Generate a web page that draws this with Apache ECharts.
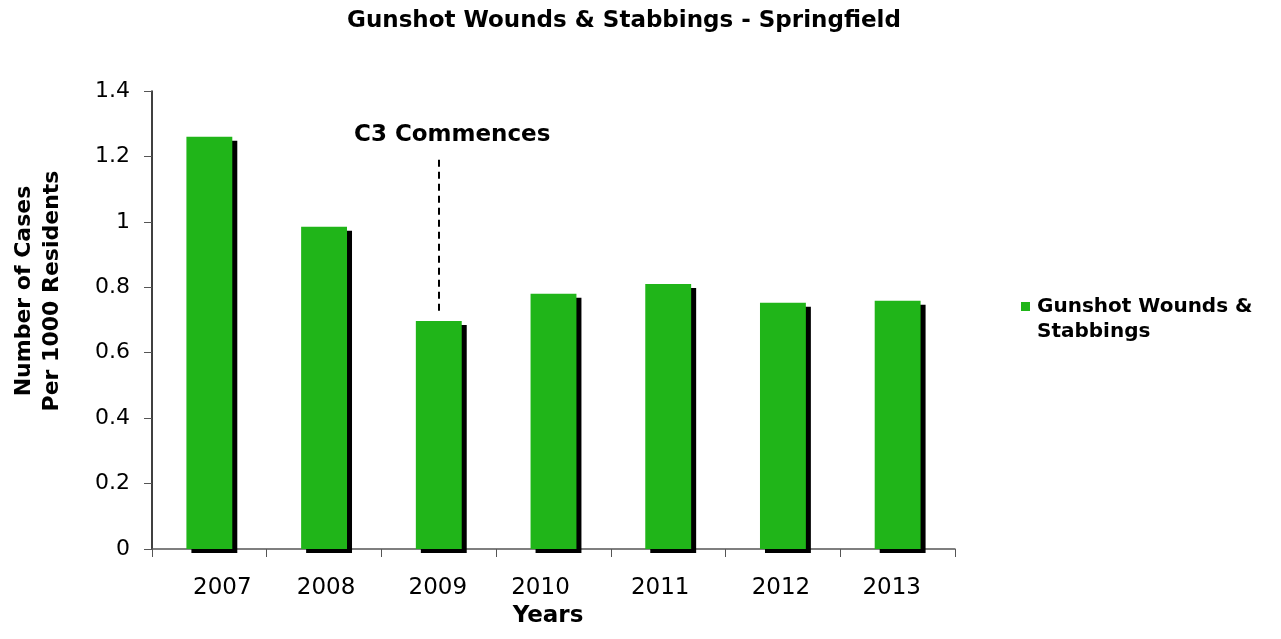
<!DOCTYPE html>
<html><head><meta charset="utf-8">
<script src="https://cdn.jsdelivr.net/npm/echarts@6/dist/echarts.min.js"></script>
<style>html,body{margin:0;padding:0;background:#fff}#c{width:1281px;height:639px}</style>
</head><body><div id="c"></div>
<script>
const years = ['2007','2008','2009','2010','2011','2012','2013'];
const casesPer1000 = [1.26, 0.985, 0.697, 0.78, 0.81, 0.753, 0.759];
const yTicks = [0, 0.2, 0.4, 0.6, 0.8, 1, 1.2, 1.4];
const seriesName = 'Gunshot Wounds & Stabbings';
const annotationYear = '2009';
const annotationRange = [1.19, 0.717];
const annotationText = 'C3 Commences';

// layout/style constants (horizontal nudges of x-axis labels as in the reference)
const LABEL_NUDGE = [13, 2, -1, -13, -8, -2, -6];
const FONT = '"DejaVu Sans", Verdana, sans-serif';

const rich = {};
LABEL_NUDGE.forEach((d, i) => {
  rich['s' + i] = {fontFamily: FONT, fontSize: 23, color: '#000',
    padding: d >= 0 ? [0, 0, 0, 2 * d] : [0, -2 * d, 0, 0]};
});

const chart = echarts.init(document.getElementById('c'), null, {renderer: 'canvas'});
chart.setOption({
  animation: false,
  backgroundColor: '#fff',
  title: {
    text: 'Gunshot Wounds & Stabbings - Springfield',
    left: 342, top: 5,
    textStyle: {fontFamily: FONT, fontSize: 23, fontWeight: 'bold', color: '#000'}
  },
  grid: {left: 152, right: 326, top: 91, bottom: 90, containLabel: false},
  legend: {
    left: 1021, top: 294, padding: 0,
    icon: 'path://M0,0H9V9H0Z M0,34',
    itemWidth: 9, itemHeight: 34, itemGap: 0,
    formatter: () => 'Gunshot Wounds &\nStabbings',
    textStyle: {fontFamily: FONT, fontSize: 20, fontWeight: 'bold', color: '#000', lineHeight: 25, padding: [0,0,0,2]},
    data: [seriesName]
  },
  xAxis: {
    type: 'category', data: years,
    name: 'Years', nameLocation: 'middle', nameGap: 55,
    nameTextStyle: {fontFamily: FONT, fontSize: 23, fontWeight: 'bold', color: '#000', padding: [0, 11, 0, 0]},
    axisLine: {lineStyle: {color: '#555', width: 1.5}},
    axisTick: {show: true, length: 8, alignWithLabel: false, interval: 0, lineStyle: {color: '#555'}},
    axisLabel: {fontFamily: FONT, fontSize: 23, color: '#000', margin: 28, interval: 0, hideOverlap: false,
      formatter: (v, i) => '{s' + i + '|' + v + '}', rich: rich}
  },
  yAxis: {
    type: 'value', min: 0, max: 1.4, interval: 0.2,
    axisLine: {show: true, lineStyle: {color: '#000', width: 1.5}},
    axisTick: {show: true, length: 8, inside: false, lineStyle: {color: '#555'}},
    splitLine: {show: false},
    axisLabel: {fontFamily: FONT, fontSize: 22, color: '#000', margin: 22,
      formatter: v => { const t = yTicks.find(x => Math.abs(x - v) < 1e-9); return t === undefined ? '' : String(t); }}
  },
  series: [{
    name: seriesName, type: 'bar', data: casesPer1000,
    barWidth: '40%',
    itemStyle: {color: '#20B519', shadowColor: '#000', shadowBlur: 0, shadowOffsetX: 5, shadowOffsetY: 4},
    markLine: {
      silent: true, symbol: ['none','none'],
      label: {show: false},
      lineStyle: {color: '#000', type: [7, 5], width: 2},
      data: [[{coord: [annotationYear, annotationRange[0]]}, {coord: [annotationYear, annotationRange[1]]}]]
    }
  }],
  graphic: [
    {type: 'text', x: 354, y: 135, style: {text: annotationText, font: 'bold 23px ' + FONT, fill: '#000', textAlign: 'left', textVerticalAlign: 'middle'}},
    {type: 'text', x: 38, y: 291, rotation: Math.PI/2,
     style: {text: 'Number of Cases\nPer 1000 Residents', font: 'bold 22px ' + FONT, lineHeight: 28, fill: '#000', textAlign: 'center', textVerticalAlign: 'middle'}}
  ]
});
</script></body></html>
